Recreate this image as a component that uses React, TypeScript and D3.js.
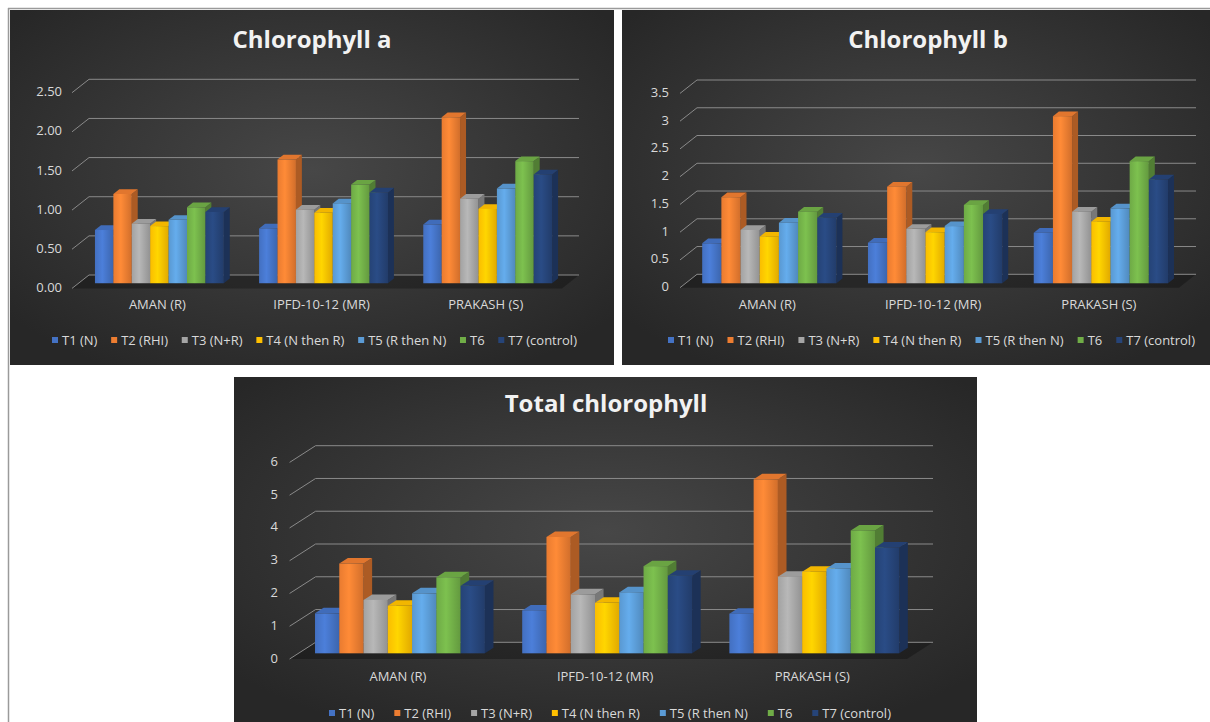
import React from 'react';
import * as d3 from 'd3';

const categories = ['AMAN (R)', 'IPFD-10-12 (MR)', 'PRAKASH (S)'];
const seriesNames = ['T1 (N)', 'T2 (RHI)', 'T3 (N+R)', 'T4 (N then R)', 'T5 (R then N)', 'T6', 'T7 (control)'];
const seriesColors = ['#4472C4', '#ED7D31', '#A5A5A5', '#FFC000', '#5B9BD5', '#70AD47', '#264478'];

// values per series, in category order [AMAN, IPFD, PRAKASH]
const chlorophyllA = [
  [0.68, 0.70, 0.75],
  [1.14, 1.58, 2.12],
  [0.76, 0.94, 1.08],
  [0.73, 0.90, 0.95],
  [0.81, 1.02, 1.21],
  [0.97, 1.26, 1.56],
  [0.91, 1.16, 1.39],
];
const chlorophyllATicks = [0, 0.5, 1, 1.5, 2, 2.5];

const chlorophyllB = [
  [0.72, 0.73, 0.91],
  [1.55, 1.74, 3.01],
  [0.96, 0.98, 1.29],
  [0.84, 0.92, 1.11],
  [1.09, 1.03, 1.35],
  [1.29, 1.41, 2.20],
  [1.18, 1.25, 1.87],
];
const chlorophyllBTicks = [0, 0.5, 1, 1.5, 2, 2.5, 3, 3.5];

const totalChlorophyll = [
  [1.22, 1.31, 1.21],
  [2.74, 3.55, 5.31],
  [1.63, 1.80, 2.34],
  [1.45, 1.54, 2.49],
  [1.83, 1.86, 2.59],
  [2.32, 2.66, 3.75],
  [2.06, 2.37, 3.23],
];
const totalTicks = [0, 1, 2, 3, 4, 5, 6];

const FONT = "'Open Sans', 'Noto Sans', sans-serif";
const TEXT = '#d9d9d9';

type Layout = {
  panel: [number, number, number, number];
  titleX: number; titleY: number;
  x0: number; x1: number; back0: number; backTop: number;
  dx: number; dy: number; zb: number; depth: number;
  pi: number; po: number; tickRight: number; catY: number;
  legendX: number; legendY: number; legendW: number;
};

const layoutA: Layout = {
  panel: [10, 10, 604, 355], titleX: 312, titleY: 48,
  x0: 72, x1: 562, back0: 275, backTop: 79.3, dx: 17, dy: 13.4, zb: 0.385, depth: 0.35,
  pi: 0.215, po: 0.1, tickRight: 62, catY: 309, legendX: 314.5, legendY: 340, legendW: 525,
};
const layoutB: Layout = {
  panel: [622, 10, 588, 355], titleX: 928, titleY: 48,
  x0: 680, x1: 1179, back0: 274.3, backTop: 80, dx: 17, dy: 13.4, zb: 0.33, depth: 0.35,
  pi: 0.19, po: 0.1, tickRight: 669, catY: 309, legendX: 931.5, legendY: 340, legendW: 527,
};
const layoutT: Layout = {
  panel: [234, 377, 743, 345], titleX: 606, titleY: 412,
  x0: 289.6, x1: 907, back0: 642.3, backTop: 445.7, dx: 26, dy: 16.7, zb: 0.34, depth: 0.33,
  pi: 0.18, po: 0.08, tickRight: 278, catY: 681, legendX: 610, legendY: 713, legendW: 562,
};

let measureCtx: CanvasRenderingContext2D | null = null;
function measure(text: string, size: number): number {
  if (!measureCtx) measureCtx = document.createElement('canvas').getContext('2d');
  if (!measureCtx) return text.length * size * 0.55;
  measureCtx.font = `${size}px 'Open Sans'`;
  return measureCtx.measureText(text).width;
}

function Chart({ id, title, values, ticks, fmt, L }: {
  id: string; title: string; values: number[][]; ticks: number[]; fmt: (v: number) => string; L: Layout;
}) {
  const x = d3.scaleBand<string>().domain(categories).range([L.x0, L.x1]).paddingInner(L.pi).paddingOuter(L.po);
  const yMax = ticks[ticks.length - 1];
  const y = d3.scaleLinear().domain([0, yMax]).range([L.back0, L.backTop]);
  const bw = x.bandwidth() / seriesNames.length;
  const barShift = L.dx * L.zb;
  const barBase = y(0) + L.dy - L.dy * L.zb;
  const ddx = L.dx * L.depth;
  const ddy = L.dy * L.depth;
  const [px, py, pw, ph] = L.panel;

  // legend layout
  const fs = 13;
  const marker = 6;
  const mgap = 4;
  const items = seriesNames.map((n) => ({ n, w: measure(n, fs) }));
  const base = d3.sum(items, (d) => marker + mgap + d.w);
  const gap = (L.legendW - base) / (items.length - 1);
  let cur = L.legendX - L.legendW / 2;
  const legendPos = items.map((d) => {
    const p = cur;
    cur += marker + mgap + d.w + gap;
    return p;
  });

  return (
    <g>
      <rect x={px} y={py} width={pw} height={ph} fill={`url(#bg)`} />
      <text x={L.titleX} y={L.titleY} textAnchor="middle" fontSize={24} fontWeight={700} fill="#f2f2f2">{title}</text>
      {/* floor */}
      <polygon
        points={`${L.x0},${y(0) + L.dy} ${L.x1},${y(0) + L.dy} ${L.x1 + L.dx},${y(0)} ${L.x0 + L.dx},${y(0)}`}
        fill="rgba(0,0,0,0.28)"
      />
      {/* gridlines: side wall diagonal + back wall */}
      {ticks.map((t) => (
        <g key={`g${t}`}>
          <line x1={L.x0} y1={y(t) + L.dy} x2={L.x0 + L.dx} y2={y(t)} stroke="#8a8a8a" strokeWidth={1} />
          <line x1={L.x0 + L.dx} y1={y(t)} x2={L.x1 + L.dx} y2={y(t)} stroke="#8a8a8a" strokeWidth={1} />
          <text x={L.tickRight} y={y(t) + L.dy - 1} dy="0.35em" textAnchor="end" fontSize={13} fill={TEXT}>{fmt(t)}</text>
        </g>
      ))}
      {/* bars */}
      {categories.map((cat, ci) => (
        <g key={cat}>
          {seriesNames.map((s, si) => {
            const v = values[si][ci];
            const xl = (x(cat) as number) + si * bw + barShift;
            const xr = xl + bw;
            const yb = barBase;
            const yt = barBase - (y(0) - y(v));
            const c = d3.rgb(seriesColors[si]);
            return (
              <g key={s}>
                <polygon
                  points={`${xr},${yt} ${xr + ddx},${yt - ddy} ${xr + ddx},${yb - ddy} ${xr},${yb}`}
                  fill={c.darker(0.9).formatHex()}
                />
                <polygon
                  points={`${xl},${yt} ${xl + ddx},${yt - ddy} ${xr + ddx},${yt - ddy} ${xr},${yt}`}
                  fill={c.darker(0.15).formatHex()}
                />
                <rect x={xl} y={yt} width={bw} height={yb - yt} fill={`url(#front${si})`} />
              </g>
            );
          })}
          <text x={(x(cat) as number) + x.bandwidth() / 2 + barShift - 2} y={L.catY} textAnchor="middle" fontSize={13} fill={TEXT}>{cat}</text>
        </g>
      ))}
      {/* legend */}
      {items.map((d, i) => (
        <g key={`l${i}`}>
          <rect x={legendPos[i]} y={L.legendY - marker / 2} width={marker} height={marker} fill={seriesColors[i]} />
          <text x={legendPos[i] + marker + mgap} y={L.legendY} dy="0.35em" fontSize={fs} fill={TEXT}>{d.n}</text>
        </g>
      ))}
    </g>
  );
}

export default function App() {
  const f2 = d3.format('.2f');
  const fplain = (v: number) => String(v);
  return (
    <svg width={1210} height={722} style={{ position: 'absolute', left: 0, top: 0, background: '#ffffff' }} fontFamily={FONT}>
      <defs>
        <radialGradient id="bg" cx="50%" cy="45%" r="65%">
          <stop offset="0%" stopColor="#474747" />
          <stop offset="100%" stopColor="#272727" />
        </radialGradient>
        {seriesColors.map((c, i) => (
          <linearGradient key={i} id={`front${i}`} x1="0" x2="1" y1="0" y2="0">
            <stop offset="0%" stopColor={d3.rgb(c).darker(0.05).formatHex()} />
            <stop offset="40%" stopColor={d3.rgb(c).brighter(0.3).formatHex()} />
            <stop offset="100%" stopColor={d3.rgb(c).darker(0.35).formatHex()} />
          </linearGradient>
        ))}
      </defs>
      <line x1={8} y1={8.5} x2={1210} y2={8.5} stroke="#9a9a9a" strokeWidth={1.5} />
      <line x1={8.5} y1={8} x2={8.5} y2={722} stroke="#9a9a9a" strokeWidth={1.5} />
      <Chart id="a" title="Chlorophyll a" values={chlorophyllA} ticks={chlorophyllATicks} fmt={f2} L={layoutA} />
      <Chart id="b" title="Chlorophyll b" values={chlorophyllB} ticks={chlorophyllBTicks} fmt={fplain} L={layoutB} />
      <Chart id="t" title="Total chlorophyll" values={totalChlorophyll} ticks={totalTicks} fmt={fplain} L={layoutT} />
    </svg>
  );
}
